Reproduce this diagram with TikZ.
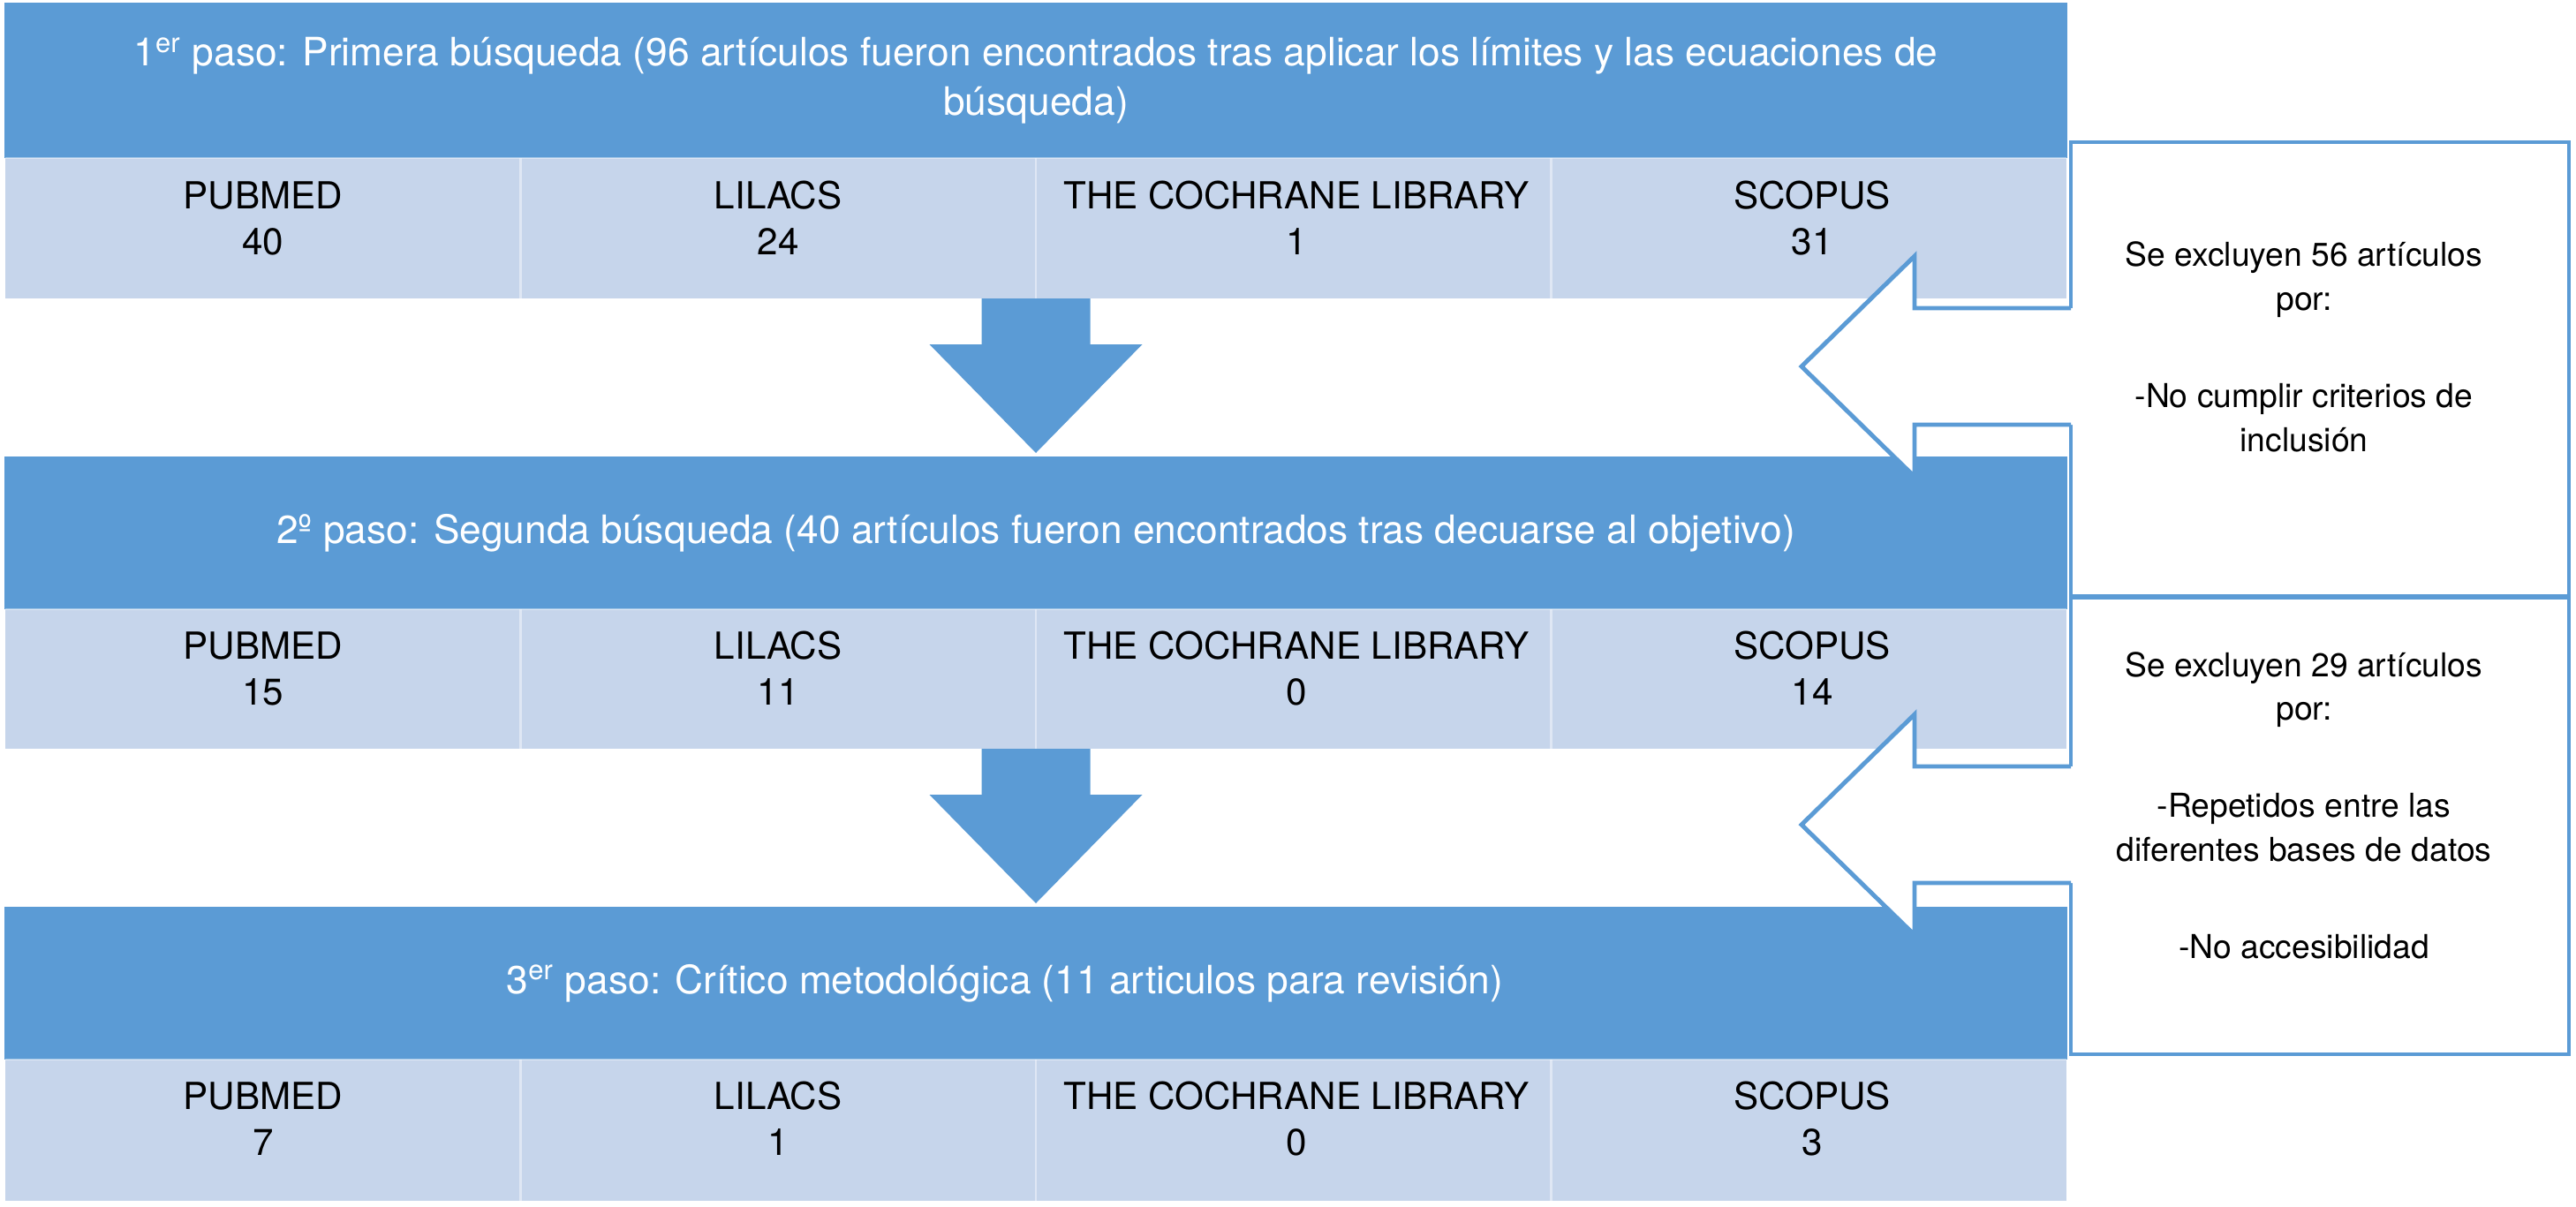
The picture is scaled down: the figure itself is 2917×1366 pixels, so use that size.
\documentclass[tikz,border=0pt]{standalone}
\usepackage{fontspec}
\setmainfont{TeX Gyre Heros}
\usetikzlibrary{calc}
\definecolor{dkblue}{HTML}{5B9BD5}
\definecolor{ltblue}{HTML}{C6D5EB}
\tikzset{
  band/.style={fill=dkblue, draw=none, inner sep=0pt, minimum width=23.34cm, text=white,
    align=center, font=\fontsize{12.6}{15.9}\selectfont},
  rowfill/.style={fill=ltblue},
  divider/.style={draw=white, opacity=0.45, line width=0.8pt},
  celltext/.style={inner sep=0pt, align=center, text=black, font=\fontsize{12.0}{14.8}\selectfont},
  exctext/.style={inner sep=0pt, align=center, text=black, font=\fontsize{10.6}{14.2}\selectfont},
  excbox/.style={draw=dkblue, line width=1.4pt, fill=white},
  downarr/.style={fill=dkblue, draw=none},
  leftarr/.style={draw=dkblue, line width=1.4pt, line join=miter}
}
\begin{document}
\begin{tikzpicture}[x=0.01cm, y=-0.01cm]
\useasboundingbox (0,0) rectangle (2917,1366);

% exclusion boxes
\draw[excbox] (2345,161) rectangle (2909,675);
\draw[excbox] (2345,677) rectangle (2909,1194);

% bands
\node[band, minimum height=1.76cm] (b1) at (1173,91)
  {1\textsuperscript{er} paso: Primera búsqueda (96 artículos fueron encontrados tras aplicar los límites y las ecuaciones de\\búsqueda)};
\node[band, minimum height=1.73cm] (b2) at (1173,603.5)
  {2º paso: Segunda búsqueda (40 artículos fueron encontrados tras decuarse al objetivo)};
\node[band, minimum height=1.73cm] (b3) at (1173,1113.5)
  {3\textsuperscript{er} paso: Crítico metodológica (11 articulos para revisión)\hspace*{20pt}};

% rows
\fill[rowfill] (6,179) rectangle (2340,338);
\fill[rowfill] (6,690) rectangle (2340,848);
\fill[rowfill] (6,1200) rectangle (2340,1360);
\foreach \yt/\yb in {179/338, 690/848, 1200/1360}{
  \draw[divider] (6,\yt) -- (2340,\yt);
  \foreach \xd in {589.5,1173,1756.5}{
    \draw[divider] (\xd,\yt) -- (\xd,\yb);
  }
}

% row texts
\node[celltext] (r1a) at (297.75,247) {PUBMED\\40};
\node[celltext] (r1b) at (881.25,247) {LILACS\\24};
\node[celltext] (r1c) at (1468,247) {THE COCHRANE LIBRARY\\1};
\node[celltext] (r1d) at (2052,247) {SCOPUS\\31};
\node[celltext] (r2a) at (297.75,757) {PUBMED\\15};
\node[celltext] (r2b) at (881.25,757) {LILACS\\11};
\node[celltext] (r2c) at (1468,757) {THE COCHRANE LIBRARY\\0};
\node[celltext] (r2d) at (2052,757) {SCOPUS\\14};
\node[celltext] (r3a) at (297.75,1267) {PUBMED\\7};
\node[celltext] (r3b) at (881.25,1267) {LILACS\\1};
\node[celltext] (r3c) at (1468,1267) {THE COCHRANE LIBRARY\\0};
\node[celltext] (r3d) at (2052,1267) {SCOPUS\\3};

% down arrows
\coordinate (d1s) at (1173,338);
\coordinate (d1e) at (1173,513);
\coordinate (d2s) at (1173,848);
\coordinate (d2e) at (1173,1023);
\foreach \s/\e in {d1s/d1e, d2s/d2e}{
  \fill[downarr] ($(\s)+(-61.5,0)$) -- ($(\s)+(61.5,0)$) -- ($(\s)+(61.5,52)$) -- ($(\s)+(120.5,52)$)
    -- (\e) -- ($(\s)+(-120.5,52)$) -- ($(\s)+(-61.5,52)$) -- cycle;
}

% left arrows (outline)
\coordinate (l1) at (2040,415);
\coordinate (l2) at (2040,934);
\foreach \c in {l1,l2}{
  \fill[white] ($(\c)+(310,-66)$) -- ($(\c)+(128,-66)$) -- ($(\c)+(128,-125)$) -- (\c)
    -- ($(\c)+(128,125)$) -- ($(\c)+(128,66)$) -- ($(\c)+(310,66)$) -- cycle;
  \draw[leftarr] ($(\c)+(305,-66)$) -- ($(\c)+(128,-66)$) -- ($(\c)+(128,-125)$) -- (\c)
    -- ($(\c)+(128,125)$) -- ($(\c)+(128,66)$) -- ($(\c)+(305,66)$);
}

% exclusion texts
\node[exctext] (e1) at (2609,393)
  {Se excluyen 56 artículos\\por:\\[17pt]-No cumplir criterios de\\inclusión};
\node[exctext] (e2) at (2609,912)
  {Se excluyen 29 artículos\\por:\\[17pt]-Repetidos entre las\\diferentes bases de datos\\[17pt]-No accesibilidad};
\end{tikzpicture}
\end{document}
